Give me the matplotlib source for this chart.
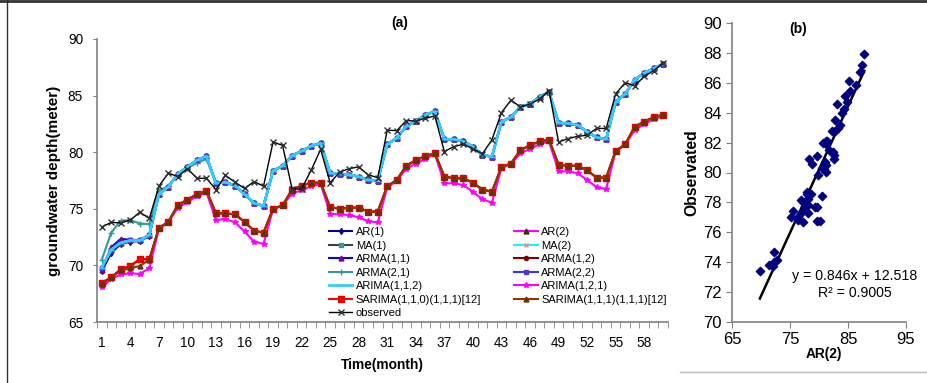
import matplotlib
matplotlib.use("Agg")
import matplotlib.pyplot as plt
import numpy as np

plt.rcParams["font.family"] = ["Liberation Sans", "DejaVu Sans"]

# --- data (groundwater depth, m) ---
months = np.arange(1, 61)

observed = [73.4, 73.8, 73.75, 74.0, 74.7, 74.15, 77.0, 78.15, 77.85, 78.55,
            77.7, 77.7, 76.7, 77.95, 77.35, 76.8, 77.4, 77.0, 80.9, 80.6,
            76.75, 76.75, 78.4, 80.25, 77.3, 78.25, 78.55, 78.7, 78.0, 77.75,
            81.95, 81.9, 82.8, 82.75, 83.0, 83.2, 80.05, 80.5, 80.7, 80.3,
            79.85, 81.1, 83.5, 84.6, 84.0, 84.25, 84.7, 85.45, 80.9, 81.2,
            81.4, 81.5, 82.1, 82.1, 85.15, 86.15, 85.85, 86.7, 87.2, 87.9]

# AR / MA / ARMA / ARIMA(1,1,2) fits (they sit on top of each other)
arima_112 = [69.8, 71.4, 72.0, 72.2, 72.2, 72.7, 76.3, 76.95, 78.1, 78.7,
             79.3, 79.65, 77.25, 77.35, 77.05, 76.3, 75.5, 75.25, 78.35, 78.8,
             79.7, 80.1, 80.55, 80.8, 78.15, 78.1, 78.0, 77.85, 77.55, 77.5,
             80.7, 81.25, 82.3, 82.75, 83.3, 83.6, 81.15, 81.15, 80.95, 80.5,
             79.75, 79.6, 82.7, 83.1, 84.0, 84.25, 84.9, 85.3, 82.6, 82.55,
             82.4, 81.8, 81.3, 81.15, 84.45, 85.15, 86.4, 87.0, 87.4, 87.8]
arma_11 = [69.6, 71.6, 72.35, 72.25, 72.25, 72.7] + arima_112[6:]
ar_1 = [69.5, 71.1, 71.9, 72.1, 72.15, 72.6] + arima_112[6:]
arma_21 = [70.5, 72.9, 73.95, 74.0, 73.7, 73.65, 76.6, 77.0, 78.1, 78.6,
           79.05, 79.4] + arima_112[12:]

sarima_110 = [68.45, 68.95, 69.65, 69.95, 70.55, 70.55, 73.3, 73.85, 75.35, 75.8,
              76.3, 76.6, 74.6, 74.6, 74.5, 73.85, 73.05, 72.9, 75.0, 75.3,
              76.7, 77.05, 77.3, 77.3, 75.15, 75.0, 75.1, 75.1, 74.75, 74.75,
              77.0, 77.55, 78.8, 79.3, 79.65, 79.9, 77.85, 77.7, 77.7, 77.3,
              76.7, 76.5, 78.7, 79.0, 80.2, 80.6, 80.95, 81.1, 78.9, 78.8,
              78.8, 78.4, 77.75, 77.75, 80.1, 80.7, 82.25, 82.7, 83.1, 83.3]
sarima_111 = [68.4, 68.95, 69.55, 69.75, 69.95, 70.5] + sarima_110[6:]

arima_121 = [68.05, 68.8, 69.2, 69.3, 69.25, 69.75, 73.2, 73.8, 75.1, 75.6,
             76.1, 76.45, 74.0, 74.1, 73.8, 73.0, 72.1, 71.9, 74.95, 75.3,
             76.35, 76.65, 77.0, 77.2, 74.55, 74.5, 74.45, 74.25, 73.9, 73.8,
             76.9, 77.45, 78.55, 79.0, 79.4, 79.85, 77.25, 77.25, 77.1, 76.5,
             75.85, 75.55, 78.6, 78.95, 79.9, 80.3, 80.7, 80.95, 78.3, 78.3,
             78.15, 77.55, 76.9, 76.75, 80.05, 80.65, 81.95, 82.5, 82.9, 83.2]

# regression printed on panel (b)
slope, intercept, r2 = 0.846, 12.518, 0.9005

# (label, values, line colour, marker, marker face, marker edge, marker size, lw)
series = [
    ("AR(1)", ar_1, "#000080", "d", "#000080", "#000080", 3, 1.5),
    ("AR(2)", arima_112, "#FF00FF", "^", "#333300", "#333300", 3.5, 1.5),
    ("MA(1)", arima_112, "#404040", "s", "#339999", "#339999", 3.5, 1.5),
    ("MA(2)", arima_112, "#00FFFF", "x", "#FF8080", "#FF8080", 3.5, 1.5),
    ("ARMA(1,1)", arma_11, "#0000FF", "^", "#800080", "#800080", 3.5, 1.5),
    ("ARMA(1,2)", sarima_110, "#800000", "o", "#800000", "#800000", 3, 1.5),
    ("ARMA(2,1)", arma_21, "#339999", "+", "#339999", "#339999", 4, 1.5),
    ("ARMA(2,2)", arima_112, "#3333FF", "s", "#5533CC", "#5533CC", 3.5, 1.5),
    ("ARIMA(1,1,2)", arima_112, "#33CCFF", "_", "#33CCFF", "#33CCFF", 4, 2.0),
    ("ARIMA(1,2,1)", arima_121, "#FF00FF", "*", "#FF00FF", "#FF00FF", 4, 1.5),
    ("SARIMA(1,1,0)(1,1,1)[12]", sarima_110, "#FF0000", "s", "#FF0000", "#E00000", 4, 1.5),
    ("SARIMA(1,1,1)(1,1,1)[12]", sarima_111, "#993300", "^", "#663300", "#663300", 3.5, 1.5),
    ("observed", observed, "black", "x", "#303030", "#303030", 4, 1.0),
]

fig = plt.figure(figsize=(9.27, 3.83), dpi=100)
W, H = 927, 383

# --- Panel (a): time series ---
ax = fig.add_axes([97 / W, 61 / H, 571 / W, 283 / H])
lines = {}
for label, vals, col, mk, mfc, mec, ms, lw in series:
    (ln,) = ax.plot(months, vals, color=col, lw=lw, marker=mk, mfc=mfc, mec=mec,
                    ms=ms, mew=1.0, label=label)
    lines[label] = ln

ax.set_xlim(0.5, 60.5)
ax.set_ylim(65, 90)
ax.set_yticks([65, 70, 75, 80, 85, 90])
ax.set_xticks(np.arange(1, 61, 3))
ax.set_xticks(np.arange(0.5, 61, 1), minor=True)
ax.tick_params(axis="x", which="major", length=0, pad=10, labelsize=9.8)
ax.tick_params(axis="x", which="minor", length=4, direction="out", color="#808080")
ax.tick_params(axis="y", length=3, direction="out", color="#808080", labelsize=9.8, pad=7)
for s in ["top", "right"]:
    ax.spines[s].set_visible(False)
for s in ["left", "bottom"]:
    ax.spines[s].set_color("#808080")
    ax.spines[s].set_linewidth(1.2)
ax.set_xlabel("Time(month)", fontsize=9.9, fontweight="bold", labelpad=6)
ax.set_ylabel("groundwater depth(meter)", fontsize=11, fontweight="bold", va="center")
ax.yaxis.set_label_coords((54 - 97) / 571, 0.5)

left_col = ["AR(1)", "MA(1)", "ARMA(1,1)", "ARMA(2,1)", "ARIMA(1,1,2)",
            "SARIMA(1,1,0)(1,1,1)[12]", "observed"]
right_col = ["AR(2)", "MA(2)", "ARMA(1,2)", "ARMA(2,2)", "ARIMA(1,2,1)",
             "SARIMA(1,1,1)(1,1,1)[12]"]
order = left_col + right_col
ax.legend([lines[k] for k in order], order, ncol=2, loc="upper left",
          bbox_to_anchor=((329 - 97) / 571, (322 - 227) / 283), frameon=False,
          fontsize=8, borderpad=0, borderaxespad=0, handlelength=2.1,
          handletextpad=0.3, columnspacing=3.0, labelspacing=0.32)

fig.text(400 / W, 1 - 23 / H, "(a)", fontsize=10, fontweight="bold",
         ha="center", va="center")

# --- Panel (b): AR(2) vs observed ---
ax2 = fig.add_axes([732 / W, 61 / H, 174 / W, 299 / H])
ar2 = np.array(arima_112)
ax2.scatter(ar2, observed, marker="D", s=18, color="#000080", zorder=3)
xl = np.array([ar2.min(), ar2.max()])
ax2.plot(xl, slope * xl + intercept, color="black", lw=1.8)
ax2.set_xlim(65, 95)
ax2.set_ylim(70, 90)
ax2.set_xticks([65, 75, 85, 95])
ax2.set_yticks(np.arange(70, 91, 2))
ax2.tick_params(length=4, direction="out", color="#808080", labelsize=12)
for s in ["top", "right"]:
    ax2.spines[s].set_visible(False)
for s in ["left", "bottom"]:
    ax2.spines[s].set_color("#808080")
    ax2.spines[s].set_linewidth(1.2)
ax2.set_xlabel("AR(2)", fontsize=9.9, fontweight="bold", labelpad=0)
ax2.xaxis.set_label_coords(0.53, -0.085)
ax2.set_ylabel("Observated", fontsize=11.3, fontweight="bold", va="center")
ax2.yaxis.set_label_coords((692 - 732) / 174, 0.5)
ax2.text(0.379, 0.98, "(b)", transform=ax2.transAxes, fontsize=10,
         fontweight="bold", ha="center", va="center")
ax2.text(0.704, 0.154, f"y = {slope}x + {intercept}", transform=ax2.transAxes,
         fontsize=10.2, ha="center", va="center")
ax2.text(0.704, 0.097, f"R² = {r2}", transform=ax2.transAxes,
         fontsize=10.2, ha="center", va="center")

# outer frame lines of the screenshot
fig.add_artist(plt.Line2D([0, 1], [1 - 0.5 / H, 1 - 0.5 / H], color="#333333", lw=2))
fig.add_artist(plt.Line2D([7 / W, 7 / W], [0, 1], color="#333333", lw=1))
fig.add_artist(plt.Line2D([680 / W, 1], [1 - 372 / H, 1 - 372 / H], color="#BBBBBB", lw=1))

fig.savefig("out.png", dpi=100)
